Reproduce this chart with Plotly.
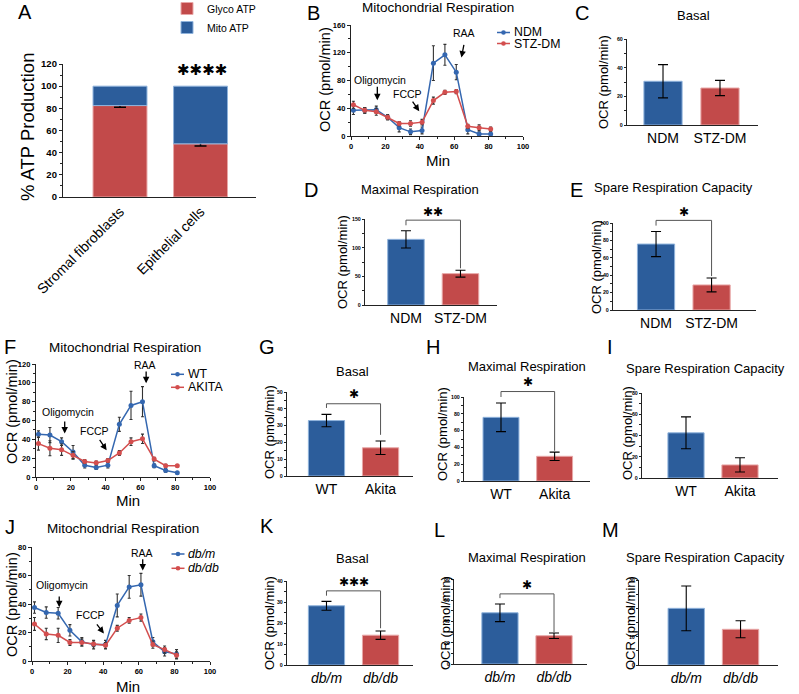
import plotly.graph_objects as go

W, H = 799, 694
FONT = "Liberation Sans, Arial, sans-serif"
STARFONT = "DejaVu Sans"

# ---------------- data ----------------
# Panel A
atp_categories = ["Stromal fibroblasts", "Epithelial cells"]
glyco_atp = [82.5, 48.0]
glyco_atp_err = [1.5, 2.0]
mito_atp = [17.5, 52.0]

# Seahorse time points (min)
time_min = [1.4, 8.0, 14.7, 21.3, 28.0, 34.6, 41.3, 47.9, 54.6, 61.2, 67.9, 74.5, 81.2]

# Panel B
ndm_ocr = [37, 37, 38, 27, 12, 6, 8, 105, 117, 92, 9, 3, 3]
ndm_err = [6, 4, 5, 4, 6, 4, 5, 25, 15, 11, 6, 3, 3]
stz_ocr = [45, 37, 35, 27, 18, 18, 20, 51, 63, 64, 14, 12, 10]
stz_err = [5, 4, 5, 3, 3, 4, 4, 5, 3, 3, 3, 4, 3]

# Panel F
wt_ocr = [45.5, 44.5, 37.5, 26.5, 12.5, 10, 12.5, 56, 76, 80, 12, 7, 4.5]
wt_err = [3.5, 8, 4, 7, 3, 2, 3, 7.5, 15, 16, 2, 2, 1]
akita_ocr = [35.5, 30.5, 29, 23, 16.5, 15, 17.5, 25.5, 37.5, 40.5, 19, 12, 12]
akita_err = [7, 8, 6, 4, 2, 2, 2, 2.5, 4, 5, 2, 1.5, 1]

# Panel J
dbm_ocr = [37.5, 34, 33.5, 21.5, 13.5, 11.5, 11.5, 39, 52, 53.5, 13.5, 6.5, 5]
dbm_err = [4, 4, 4, 4, 3, 3, 3, 8, 8, 8, 3, 3, 3]
dbdb_ocr = [26, 19, 18, 13, 13, 12, 11, 23, 28.5, 30.5, 11.5, 8, 4]
dbdb_err = [4.5, 4, 5, 2, 2.5, 2, 2, 2, 2, 2.5, 2.5, 2.5, 2.5]

# Summary bars
stz_groups = ["NDM", "STZ-DM"]
basal_stz = [30.5, 25.8]
basal_stz_err = [11.6, 5.3]
maximal_stz = [114.5, 54.7]
maximal_stz_err = [15, 6]
spare_stz = [75.8, 28.8]
spare_stz_err = [14.5, 8]

akita_groups = ["WT", "Akita"]
basal_akita = [33, 16.8]
basal_akita_err = [3.7, 4]
maximal_akita = [75.8, 29.4]
maximal_akita_err = [17, 5]
spare_akita = [42.5, 12.3]
spare_akita_err = [15, 6.7]

db_groups = ["db/m", "db/db"]
basal_db = [28.2, 14.2]
basal_db_err = [2.1, 2]
maximal_db = [48.2, 26.6]
maximal_db_err = [8.3, 2.6]
spare_db = [20, 12.6]
spare_db_err = [7.9, 3]

# ---------------- styles ----------------
BAR_BLUE = "#2c5d9b"
BAR_RED = "#c24a4a"
BAR_BLUE_EDGE = "#8fb3dc"
BAR_RED_EDGE = "#e8a7a7"
LINE_BLUE = "#3467b0"
LINE_RED = "#d34e4e"

# panel geometry in pixels: (x_left, x_right, y_top, y_bottom), axis ranges, y dtick
panels = {
    "A": dict(px=(63, 256, 64, 197), xr=[-0.708, 1.689], yr=[0, 120], dt=20, kind="atp"),
    "B": dict(px=(351, 523, 25, 136), xr=[0, 100], yr=[0, 160], dt=40, kind="line"),
    "C": dict(px=(627, 758, 39, 125), xr=[-0.632, 1.667], yr=[0, 60], dt=20, kind="bar"),
    "D": dict(px=(365, 497, 219, 305), xr=[-0.752, 1.67], yr=[0, 150], dt=50, kind="bar"),
    "E": dict(px=(613, 756, 223, 310), xr=[-0.775, 1.8], yr=[0, 100], dt=20, kind="bar"),
    "F": dict(px=(36, 210, 364, 477), xr=[0, 100], yr=[0, 120], dt=20, kind="line"),
    "G": dict(px=(287, 413, 392, 476), xr=[-0.73, 1.6], yr=[0, 50], dt=10, kind="bar"),
    "H": dict(px=(464, 590, 397, 481), xr=[-0.69, 1.66], yr=[0, 100], dt=20, kind="bar"),
    "I": dict(px=(642, 778, 393, 478), xr=[-0.815, 1.704], yr=[0, 80], dt=20, kind="bar"),
    "J": dict(px=(32, 210, 547, 661), xr=[0, 100], yr=[0, 80], dt=20, kind="line"),
    "K": dict(px=(287, 413, 581, 665), xr=[-0.73, 1.6], yr=[0, 40], dt=10, kind="bar"),
    "L": dict(px=(454, 587, 579, 664), xr=[-0.85, 1.61], yr=[0, 80], dt=20, kind="bar"),
    "M": dict(px=(639, 778, 580, 665), xr=[-0.87, 1.69], yr=[0, 30], dt=10, kind="bar"),
}
keys = list(panels.keys())
sfx = {k: ("" if i == 0 else str(i + 1)) for i, k in enumerate(keys)}


def xa(k):
    return "x" + sfx[k]


def ya(k):
    return "y" + sfx[k]


def to_paper(k, xv, yv):
    p = panels[k]
    x0, x1, yt, yb = p["px"]
    fx = (xv - p["xr"][0]) / (p["xr"][1] - p["xr"][0])
    fy = (yv - p["yr"][0]) / (p["yr"][1] - p["yr"][0])
    return (x0 + fx * (x1 - x0)) / W, 1 - (yb - fy * (yb - yt)) / H


layout = dict(
    width=W, height=H, autosize=False,
    margin=dict(l=0, r=0, t=0, b=0, pad=0, autoexpand=False),
    plot_bgcolor="white", paper_bgcolor="white",
    font=dict(family=FONT, color="black"),
    barmode="overlay",
    showlegend=True,
)

for k, p in panels.items():
    x0, x1, yt, yb = p["px"]
    kind = p["kind"]
    tick_size = 9.5 if kind == "atp" else (7.5 if kind == "line" else 5.3)
    xaxis = dict(
        domain=[x0 / W, x1 / W], range=p["xr"], anchor=ya(k), automargin=False,
        showline=True, linecolor="#222", linewidth=1.3, showgrid=False, zeroline=False,
        fixedrange=True,
    )
    yaxis = dict(
        domain=[1 - yb / H, 1 - yt / H], range=p["yr"], anchor=xa(k), automargin=False,
        showline=True, linecolor="#222", linewidth=1.3, showgrid=False, zeroline=False,
        ticks="outside", ticklen=3 if kind != "bar" else 2, tickwidth=1, tickcolor="#222",
        tick0=0, dtick=p["dt"],
        tickfont=dict(size=tick_size, family=FONT, weight="bold", color="black"),
        minor=dict(ticks="outside", ticklen=2 if kind != "bar" else 1.5, tickcolor="#222",
                   dtick=p["dt"] / 2, showgrid=False),
        fixedrange=True,
    )
    if kind == "line":
        xaxis.update(ticks="outside", ticklen=3, tickwidth=1, tickcolor="#222", tick0=0, dtick=20,
                     tickfont=dict(size=7.5, family=FONT, weight="bold", color="black"),
                     minor=dict(ticks="outside", ticklen=2, tickcolor="#222", dtick=10, showgrid=False))
    layout["xaxis" + sfx[k]] = xaxis
    layout["yaxis" + sfx[k]] = yaxis

fig = go.Figure()

# ---------------- Panel A ----------------
fig.add_trace(go.Bar(
    x=[0, 1], y=glyco_atp, width=0.67, name="Glyco ATP",
    marker=dict(color=BAR_RED, line=dict(color=BAR_RED_EDGE, width=1)),
    error_y=dict(type="data", array=glyco_atp_err, color="black", thickness=1.5, width=6),
    xaxis=xa("A"), yaxis=ya("A"), legend="legend",
))
fig.add_trace(go.Bar(
    x=[0, 1], y=mito_atp, base=glyco_atp, width=0.67, name="Mito ATP",
    marker=dict(color=BAR_BLUE, line=dict(color=BAR_BLUE_EDGE, width=1)),
    xaxis=xa("A"), yaxis=ya("A"), legend="legend",
))
layout["xaxis"].update(tickvals=[0, 1], ticktext=atp_categories, tickangle=-45, ticks="",
                       tickfont=dict(size=14, family=FONT, color="black"))
layout["legend"] = dict(x=167 / W, y=1 + 6 / H, xanchor="left", yanchor="top",
                        bgcolor="rgba(0,0,0,0)", borderwidth=0,
                        font=dict(size=10.5, family=FONT, color="black"),
                        itemwidth=30, tracegroupgap=0)

# ---------------- line panels ----------------
def line_trace(k, y, err, name, color):
    return go.Scatter(
        x=time_min, y=y, name=name, mode="lines+markers",
        line=dict(color=color, width=1.5),
        marker=dict(color=color, size=5),
        error_y=dict(type="data", array=err, color="#333", thickness=1.1, width=1.5),
        xaxis=xa(k), yaxis=ya(k), showlegend=False, cliponaxis=False,
    )


fig.add_trace(line_trace("B", ndm_ocr, ndm_err, "NDM", LINE_BLUE))
fig.add_trace(line_trace("B", stz_ocr, stz_err, "STZ-DM", LINE_RED))
fig.add_trace(line_trace("F", wt_ocr, wt_err, "WT", LINE_BLUE))
fig.add_trace(line_trace("F", akita_ocr, akita_err, "AKITA", LINE_RED))
fig.add_trace(line_trace("J", dbm_ocr, dbm_err, "db/m", LINE_BLUE))
fig.add_trace(line_trace("J", dbdb_ocr, dbdb_err, "db/db", LINE_RED))

# ---------------- bar panels ----------------
bar_specs = [
    ("C", stz_groups, basal_stz, basal_stz_err),
    ("D", stz_groups, maximal_stz, maximal_stz_err),
    ("E", stz_groups, spare_stz, spare_stz_err),
    ("G", akita_groups, basal_akita, basal_akita_err),
    ("H", akita_groups, maximal_akita, maximal_akita_err),
    ("I", akita_groups, spare_akita, spare_akita_err),
    ("K", db_groups, basal_db, basal_db_err),
    ("L", db_groups, maximal_db, maximal_db_err),
    ("M", db_groups, spare_db, spare_db_err),
]
for k, groups, vals, errs in bar_specs:
    fig.add_trace(go.Bar(
        x=[0, 1], y=vals, width=0.67,
        marker=dict(color=[BAR_BLUE, BAR_RED], line=dict(color=[BAR_BLUE_EDGE, BAR_RED_EDGE], width=1)),
        error_y=dict(type="data", array=errs, color="black", thickness=1.1, width=5),
        xaxis=xa(k), yaxis=ya(k), showlegend=False,
    ))
    italic = "italic" if groups is db_groups else "normal"
    layout["xaxis" + sfx[k]].update(
        tickvals=[0, 1], ticktext=groups, ticks="",
        tickfont=dict(size=14, family=FONT, color="black", style=italic),
    )

# ---------------- annotations & shapes ----------------
annotations = []
shapes = []


def txt(text, x, y, size, angle=0, family=FONT, weight="normal", xanchor="center", style="normal"):
    annotations.append(dict(
        text=text, x=x / W, y=1 - y / H, xref="paper", yref="paper",
        showarrow=False, textangle=angle, xanchor=xanchor, yanchor="middle",
        font=dict(size=size, family=family, color="black", weight=weight, style=style),
    ))


# compact legends for the time-course panels (short key line + dot + label)
line_legends = [
    ("NDM", LINE_BLUE, 503.5, 32.5, 512, "normal"),
    ("STZ-DM", LINE_RED, 503.5, 43.5, 512, "normal"),
    ("WT", LINE_BLUE, 177.5, 374.3, 186, "normal"),
    ("AKITA", LINE_RED, 177.5, 387.3, 186, "normal"),
    ("db/m", LINE_BLUE, 178, 554, 186, "italic"),
    ("db/db", LINE_RED, 178, 568.3, 186, "italic"),
]
for label, color, cx, cy, tx, style in line_legends:
    shapes.append(dict(type="line", xref="paper", yref="paper",
                       x0=(cx - 6.5) / W, x1=(cx + 6.5) / W, y0=1 - cy / H, y1=1 - cy / H,
                       line=dict(color=color, width=1.5)))
    shapes.append(dict(type="circle", xref="paper", yref="paper",
                       x0=(cx - 2.3) / W, x1=(cx + 2.3) / W, y0=1 - (cy + 2.3) / H, y1=1 - (cy - 2.3) / H,
                       fillcolor=color, line=dict(width=0)))
    txt(label, tx, cy, 12.3, xanchor="left", style=style)

# panel letters
letters = {"A": (25, 12), "B": (313, 13), "C": (582, 13), "D": (311, 190), "E": (576, 190),
           "F": (10, 347), "G": (267, 347), "H": (433, 347), "I": (610, 347),
           "J": (10, 527), "K": (267, 526), "L": (439, 530), "M": (610, 530)}
for L, (x, y) in letters.items():
    txt(L, x, y, 20)

# titles
titles = [("Mitochondrial Respiration", 438, 8, 13.5), ("Basal", 693, 15, 13),
          ("Maximal Respiration", 420, 189, 13), ("Spare Respiration Capacity", 673, 188, 13),
          ("Mitochondrial Respiration", 125, 347, 13.5), ("Basal", 352, 371, 13),
          ("Maximal Respiration", 527, 366, 13), ("Spare Respiration Capacity", 705, 368, 13),
          ("Mitochondrial Respiration", 123, 528, 13.5), ("Basal", 352, 558, 13),
          ("Maximal Respiration", 527, 557, 13), ("Spare Respiration Capacity", 705, 557, 13)]
for t, x, y, s in titles:
    txt(t, x, y, s)

# axis titles
txt("% ATP Production", 27, 127, 18.5, angle=-90)
ocr = "OCR (pmol/min)"
for x, y, s in [(325, 80, 14.5), (604, 82, 13), (342, 262, 13), (596, 267, 13),
                (12, 412, 14.5), (269, 432, 13), (442, 434, 13), (628, 433, 13),
                (12, 605, 14.5), (269, 623, 13), (445, 623, 13), (630, 623, 13)]:
    txt(ocr, x, y, s, angle=-90)
for x, y in [(438, 160), (128, 500), (128, 686)]:
    txt("Min", x, y, 15)

# significance stars
STAR = "\u2731"
for k, n, xv, yv, s in [("A", 4, 1.02, 114.5, 15), ("D", 2, 0.5, 162, 12), ("E", 1, 0.5, 112.5, 12),
                        ("G", 1, 0.5, 48.8, 12), ("H", 1, 0.5, 118, 12), ("K", 3, 0.5, 39.5, 12),
                        ("L", 1, 0.5, 74, 12)]:
    px_, py_ = to_paper(k, xv, yv)
    annotations.append(dict(text=STAR * n, x=px_, y=py_, xref="paper", yref="paper", showarrow=False,
                            xanchor="center", yanchor="middle",
                            font=dict(size=s, family=STARFONT, color="black")))

# drug injection labels and arrows
inj = {
    "B": [("Oligomycin", (16.8, 80), (15.3, 73), (15.3, 51.6)),
          ("FCCP", (32.9, 60), (35.2, 51.6), (39.7, 35.7)),
          ("RAA", (65.6, 148), (65.8, 133.5), (64.2, 113))],
    "F": [("Oligomycin", (18.4, 69.4), (16.5, 60.5), (16.5, 46.3)),
          ("FCCP", (33.6, 48.8), (36, 40.9), (40.6, 28.5)),
          ("RAA", (62.6, 119), (63.3, 113.6), (63.3, 99.5))],
    "J": [("Oligomycin", (17.1, 53.4), (15.3, 46.4), (15.3, 37.8)),
          ("FCCP", (33, 32.5), (35.8, 26.7), (40.4, 19.3)),
          ("RAA", (61.6, 76), (62.2, 72.5), (62.2, 63.5))],
}
for k, items in inj.items():
    for label, (tx, ty), (ax_, ay_), (hx, hy) in items:
        px_, py_ = to_paper(k, tx, ty)
        annotations.append(dict(text=label, x=px_, y=py_, xref="paper", yref="paper", showarrow=False,
                                xanchor="center", yanchor="middle",
                                font=dict(size=10.5, family=FONT, color="black")))
        annotations.append(dict(text="", x=hx, y=hy, xref=xa(k), yref=ya(k),
                                ax=ax_, ay=ay_, axref=xa(k), ayref=ya(k),
                                showarrow=True, arrowhead=2, arrowsize=1, arrowwidth=1.3,
                                arrowcolor="black", standoff=0, startstandoff=0))

layout["annotations"] = annotations

# significance brackets (domain coordinates)
for k, ytop, yl, yr_ in [("D", 148, 139, 64), ("E", 103, 97, 39), ("G", 43, 40.5, 24.5),
                         ("H", 106.5, 100, 36), ("K", 35.3, 33, 17.5), ("L", 66, 62, 30)]:
    p = panels[k]
    fx = lambda v: (v - p["xr"][0]) / (p["xr"][1] - p["xr"][0])
    fy = lambda v: (v - p["yr"][0]) / (p["yr"][1] - p["yr"][0])
    path = f"M {fx(0)},{fy(yl)} L {fx(0)},{fy(ytop)} L {fx(1)},{fy(ytop)} L {fx(1)},{fy(yr_)}"
    shapes.append(dict(type="path", path=path, xref=xa(k) + " domain", yref=ya(k) + " domain",
                       line=dict(color="#555", width=1)))
layout["shapes"] = shapes

fig.update_layout(**layout)
fig.write_html(
    "out.html",
    config={"displayModeBar": False},
    post_script="document.body.style.margin='0';document.body.style.overflow='hidden';",
)
